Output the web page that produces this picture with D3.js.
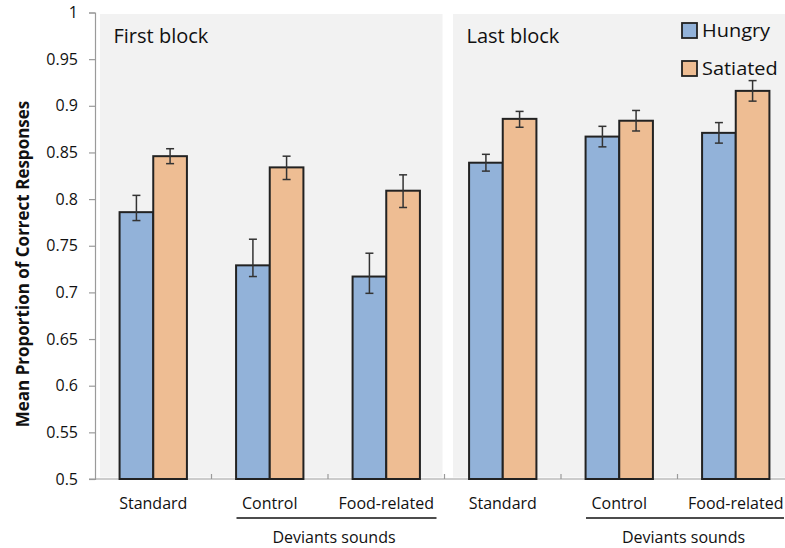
<!DOCTYPE html>
<html>
<head>
<meta charset="utf-8">
<script src="https://cdn.jsdelivr.net/npm/d3@7"></script>
<style>
  html, body { margin: 0; padding: 0; background: #ffffff; }
  svg { display: block; font-family: "Open Sans", sans-serif; }
</style>
</head>
<body>
<svg id="chart" width="785" height="548"></svg>
<script>
// ---------- data ----------
const blocks = ["First block", "Last block"];
const conditions = ["Standard", "Control", "Food-related"];
const series = ["Hungry", "Satiated"];
const hungryValues   = [0.786, 0.729, 0.717, 0.839, 0.867, 0.871];
const satiatedValues = [0.846, 0.834, 0.809, 0.886, 0.884, 0.916];
const hungryErrUp     = [0.018, 0.028, 0.025, 0.009, 0.011, 0.011];
const hungryErrDown   = [0.009, 0.012, 0.018, 0.009, 0.011, 0.011];
const satiatedErrUp   = [0.008, 0.012, 0.017, 0.008, 0.011, 0.011];
const satiatedErrDown = [0.008, 0.013, 0.018, 0.009, 0.011, 0.011];
const yTicks = [0.5, 0.55, 0.6, 0.65, 0.7, 0.75, 0.8, 0.85, 0.9, 0.95, 1];
const yTickLabels = ["0.5", "0.55", "0.6", "0.65", "0.7", "0.75", "0.8", "0.85", "0.9", "0.95", "1"];
const groupLabel = "Deviants sounds";
const yLabel = "Mean Proportion of Correct Responses";

const colors = { Hungry: "#92b2d9", Satiated: "#eebd93" };

// ---------- build rows ----------
const keys = [];
blocks.forEach(b => conditions.forEach(c => keys.push(b + "|" + c)));
const rows = keys.map((k, i) => ({
  key: k, block: k.split("|")[0], cond: k.split("|")[1],
  vals: [
    { s: "Hungry", v: hungryValues[i], up: hungryErrUp[i], dn: hungryErrDown[i] },
    { s: "Satiated", v: satiatedValues[i], up: satiatedErrUp[i], dn: satiatedErrDown[i] }
  ]
}));

const svg = d3.select("#chart");
const x0Left = 95, x0Right = 794, yTop = 12.5, yBot = 479;

const x = d3.scaleBand().domain(keys).range([x0Left, x0Right]).padding(0);
const xs = d3.scaleBand().domain(series).range([0, x.bandwidth()]).paddingInner(0).paddingOuter(0.73);
const y = d3.scaleLinear().domain([0.5, 1]).range([yBot, yTop]);

// ---------- panels ----------
const panels = [
  { x1: x(keys[0]) + 5, x2: x(keys[3]) - 2, title: blocks[0] },
  { x1: x(keys[3]) + 8.5, x2: 790, title: blocks[1] }
];
svg.append("g").selectAll("rect").data(panels).join("rect")
  .attr("x", d => d.x1).attr("y", yTop + 1.5)
  .attr("width", d => d.x2 - d.x1).attr("height", yBot - 1.5 - (yTop + 1.5))
  .attr("fill", "#f2f2f2");

svg.append("g").selectAll("text").data(panels).join("text")
  .attr("x", d => d.x1 + 13.5).attr("y", 43)
  .attr("font-size", 20).attr("fill", "#111")
  .text(d => d.title);

// ---------- y axis ----------
const yAxis = d3.axisLeft(y).tickValues(yTicks)
  .tickFormat((d, i) => yTickLabels[i]).tickSize(6).tickPadding(11);
const gy = svg.append("g").attr("transform", `translate(${x0Left},0)`).call(yAxis);
gy.select(".domain").attr("stroke", "#9a9a9a").attr("stroke-width", 1.2);
gy.selectAll(".tick line").attr("stroke", "#9a9a9a").attr("stroke-width", 1.2);
gy.selectAll(".tick text").attr("font-size", 16).attr("fill", "#111")
  .attr("font-family", "Open Sans, sans-serif");

// ---------- x axis ----------
const gx = svg.append("g").attr("transform", `translate(0,${yBot})`);
gx.append("line").attr("x1", x0Left - 6).attr("x2", 790)
  .attr("stroke", "#9a9a9a").attr("stroke-width", 1.2);
gx.selectAll(".xtick").data(keys.slice(1)).join("line")
  .attr("class", "xtick")
  .attr("x1", d => x(d)).attr("x2", d => x(d)).attr("y1", 0).attr("y2", -5)
  .attr("stroke", "#9a9a9a").attr("stroke-width", 1.2);
gx.selectAll(".xlab").data(rows).join("text")
  .attr("class", "xlab")
  .attr("x", d => x(d.key) + x.bandwidth() / 2).attr("y", 30)
  .attr("text-anchor", "middle").attr("font-size", 16).attr("fill", "#111")
  .text(d => d.cond);

// group underline + label
const groups = blocks.map(b => ({ a: b + "|" + conditions[1], z: b + "|" + conditions[2] }));
gx.selectAll(".gline").data(groups).join("line")
  .attr("class", "gline")
  .attr("x1", d => x(d.a) + 25).attr("x2", d => Math.min(x(d.z) + x.bandwidth() - 8, 784))
  .attr("y1", 39).attr("y2", 39).attr("stroke", "#111").attr("stroke-width", 1.3);
gx.selectAll(".glab").data(groups).join("text")
  .attr("class", "glab")
  .attr("x", d => x(d.z) + 6).attr("y", 64)
  .attr("text-anchor", "middle").attr("font-size", 16).attr("fill", "#111")
  .text(groupLabel);

// ---------- bars ----------
const gBars = svg.append("g").selectAll("g").data(rows).join("g")
  .attr("transform", d => `translate(${x(d.key)},0)`);
gBars.selectAll("rect").data(d => d.vals).join("rect")
  .attr("x", d => xs(d.s)).attr("width", xs.bandwidth())
  .attr("y", d => y(d.v)).attr("height", d => y(0.5) - y(d.v))
  .attr("fill", d => colors[d.s]).attr("stroke", "#222").attr("stroke-width", 2);

// ---------- error bars ----------
const eb = gBars.selectAll("g.err").data(d => d.vals).join("g").attr("class", "err")
  .attr("stroke", "#333").attr("stroke-width", 1.5);
eb.append("line")
  .attr("x1", d => xs(d.s) + xs.bandwidth() / 2).attr("x2", d => xs(d.s) + xs.bandwidth() / 2)
  .attr("y1", d => y(d.v + d.up)).attr("y2", d => y(d.v - d.dn));
eb.append("line")
  .attr("x1", d => xs(d.s) + xs.bandwidth() / 2 - 4).attr("x2", d => xs(d.s) + xs.bandwidth() / 2 + 4)
  .attr("y1", d => y(d.v + d.up)).attr("y2", d => y(d.v + d.up));
eb.append("line")
  .attr("x1", d => xs(d.s) + xs.bandwidth() / 2 - 4).attr("x2", d => xs(d.s) + xs.bandwidth() / 2 + 4)
  .attr("y1", d => y(d.v - d.dn)).attr("y2", d => y(d.v - d.dn));

// ---------- y label ----------
svg.append("text")
  .attr("transform", "translate(29,264) rotate(-90)")
  .attr("text-anchor", "middle").attr("font-size", 17).attr("font-weight", "bold")
  .attr("fill", "#111").text(yLabel);

// ---------- legend ----------
const lg = svg.append("g").attr("transform", "translate(682,23)");
const li = lg.selectAll("g").data(series).join("g")
  .attr("transform", (d, i) => `translate(0,${i * 38})`);
li.append("rect").attr("width", 15).attr("height", 15)
  .attr("fill", d => colors[d]).attr("stroke", "#222").attr("stroke-width", 1.8);
li.append("text").attr("transform", "translate(20,14) scale(1.14,1)")
  .attr("font-size", 17.5).attr("fill", "#111").text(d => d);
</script>
</body>
</html>
